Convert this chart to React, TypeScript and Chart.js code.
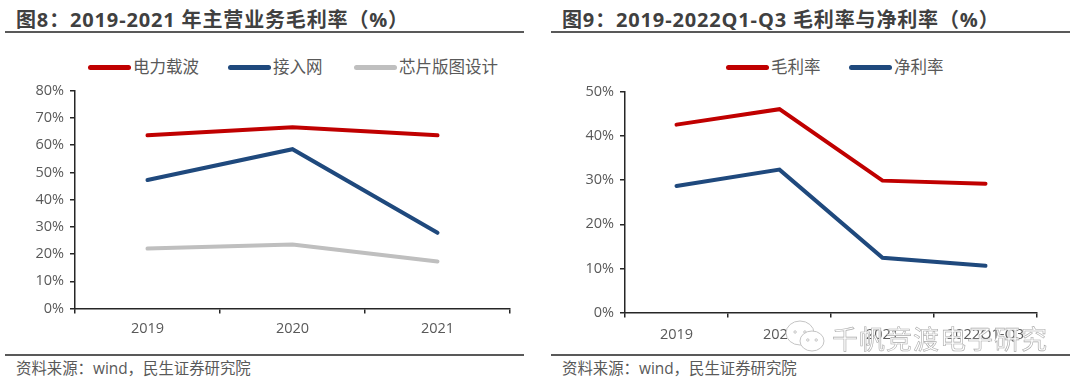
import React, { useEffect, useRef } from "react";
import { Chart, registerables } from "chart.js";

Chart.register(...registerables);

const RED = "#c00000";
const BLUE = "#1f497d";
const GREY = "#bfbfbf";
const TEXT = "#595959";
const AXIS = "#262626";
const CJK = '"Open Sans", "Noto Sans CJK SC", sans-serif';

const leftCategories = ["2019", "2020", "2021"];
const powerCarrier = [63.6, 66.6, 63.6];
const accessNetwork = [47.2, 58.5, 27.8];
const chipLayout = [22, 23.5, 17.3];

const rightCategories = ["2019", "2020", "2021", "2022Q1-Q3"];
const grossMargin = [42.6, 46.1, 29.9, 29.2];
const netMargin = [28.7, 32.4, 12.4, 10.6];

const leftSeries = [
  { label: "电力载波", data: powerCarrier, color: RED },
  { label: "接入网", data: accessNetwork, color: BLUE },
  { label: "芯片版图设计", data: chipLayout, color: GREY },
];
const rightSeries = [
  { label: "毛利率", data: grossMargin, color: RED },
  { label: "净利率", data: netMargin, color: BLUE },
];

type Series = { label: string; data: number[]; color: string };

function LineChart(props: {
  left: number; top: number; width: number; height: number;
  axisLeft: number; padTop: number; padRight: number; xHeight: number; tickPad: number;
  categories: string[]; series: Series[]; max: number;
}) {
  const ref = useRef<HTMLCanvasElement>(null);
  useEffect(() => {
    const chart = new Chart(ref.current!, {
      type: "line",
      data: {
        labels: props.categories,
        datasets: props.series.map((s) => ({
          label: s.label,
          data: s.data,
          borderColor: s.color,
          backgroundColor: s.color,
          borderWidth: 4,
          borderCapStyle: "round",
          borderJoinStyle: "miter",
          pointRadius: 0,
          tension: 0,
          fill: false,
        })),
      },
      options: {
        animation: false,
        responsive: false,
        layout: { padding: { top: props.padTop, right: props.padRight, left: 0, bottom: 0 } },
        plugins: { legend: { display: false }, tooltip: { enabled: false } },
        scales: {
          x: {
            offset: true,
            afterFit: (s: any) => { s.height = props.xHeight; },
            grid: { offset: true, drawOnChartArea: false, drawTicks: true, tickLength: 5, color: AXIS, lineWidth: 1.5 },
            border: { color: AXIS, width: 1.5 },
            ticks: { color: TEXT, padding: props.tickPad, maxRotation: 0, autoSkip: false, font: { family: CJK, size: 14.5 } },
          },
          y: {
            min: 0,
            max: props.max,
            afterFit: (s: any) => { s.width = props.axisLeft; },
            grid: { drawOnChartArea: false, drawTicks: true, tickLength: 5, color: AXIS, lineWidth: 1.5 },
            border: { color: AXIS, width: 1.5 },
            ticks: {
              color: TEXT,
              padding: 6,
              stepSize: 10,
              font: { family: CJK, size: 14.5 },
              callback: (v: any) => `${v}%`,
            },
          },
        },
      } as any,
    });
    return () => chart.destroy();
  }, []);
  return (
    <canvas
      ref={ref}
      width={props.width}
      height={props.height}
      style={{ position: "absolute", left: props.left, top: props.top, width: props.width, height: props.height }}
    />
  );
}

function Abs(props: { x: number; y: number; style?: React.CSSProperties; children: React.ReactNode }) {
  return (
    <div style={{ position: "absolute", left: props.x, top: props.y, whiteSpace: "nowrap", fontFamily: CJK, ...props.style }}>
      {props.children}
    </div>
  );
}

function Legend(props: { items: { x: number; series: Series }[]; y: number }) {
  return (
    <>
      {props.items.map(({ x, series }) => (
        <React.Fragment key={series.label}>
          <div style={{ position: "absolute", left: x, top: props.y - 2.5, width: 43, height: 5, borderRadius: 3, background: series.color }} />
          <Abs x={x + 45} y={props.y - 12} style={{ fontSize: 16.5, lineHeight: "24px", color: TEXT }}>{series.label}</Abs>
        </React.Fragment>
      ))}
    </>
  );
}

function Bubble(props: { cx: number; cy: number; rx: number; ry: number }) {
  const { cx, cy, rx, ry } = props;
  return (
    <g fill="#fff" stroke="#c4c4c4" strokeWidth={1}>
      <ellipse cx={cx} cy={cy} rx={rx} ry={ry} />
      <circle cx={cx - rx * 0.35} cy={cy - 1} r={1.2} />
      <circle cx={cx + rx * 0.35} cy={cy - 1} r={1.2} />
    </g>
  );
}

export default function App() {
  return (
    <div style={{ position: "absolute", left: 0, top: 0, width: 1080, height: 384, overflow: "hidden", background: "#fff" }}>
      <Abs x={16} y={6} style={{ fontSize: 20, lineHeight: "28px", fontWeight: 700, color: "#404040", letterSpacing: 0.85 }}>
        图8：2019-2021 年主营业务毛利率（%）
      </Abs>
      <Abs x={562} y={6} style={{ fontSize: 20, lineHeight: "28px", fontWeight: 700, color: "#404040", letterSpacing: 0.85 }}>
        图9：2019-2022Q1-Q3 毛利率与净利率（%）
      </Abs>
      <div style={{ position: "absolute", left: 5, top: 31, width: 519, height: 2, background: "#595959" }} />
      <div style={{ position: "absolute", left: 551, top: 31, width: 519, height: 2, background: "#595959" }} />

      <Legend y={67} items={[
        { x: 88, series: leftSeries[0] },
        { x: 228, series: leftSeries[1] },
        { x: 354, series: leftSeries[2] },
      ]} />
      <Legend y={67} items={[
        { x: 726, series: rightSeries[0] },
        { x: 849, series: rightSeries[1] },
      ]} />

      <LineChart left={0} top={76} width={530} height={279} axisLeft={75} padTop={13} padRight={20}
        xHeight={46.5} tickPad={7} categories={leftCategories} series={leftSeries} max={80} />
      <LineChart left={540} top={75} width={530} height={280} axisLeft={85} padTop={17} padRight={33}
        xHeight={42.5} tickPad={9} categories={rightCategories} series={rightSeries} max={50} />

      <div style={{ position: "absolute", left: 5, top: 353.5, width: 519, height: 2, background: "#595959" }} />
      <div style={{ position: "absolute", left: 551, top: 353.5, width: 519, height: 2, background: "#595959" }} />
      <Abs x={16} y={358} style={{ fontSize: 15.4, lineHeight: "22px", color: TEXT }}>资料来源：wind，民生证券研究院</Abs>
      <Abs x={562} y={358} style={{ fontSize: 15.4, lineHeight: "22px", color: TEXT }}>资料来源：wind，民生证券研究院</Abs>

      <svg width={60} height={40} style={{ position: "absolute", left: 776, top: 318 }}>
        <Bubble cx={24} cy={15} rx={14} ry={12} />
        <Bubble cx={36} cy={23} rx={12} ry={10} />
      </svg>
      <Abs x={832} y={318} style={{
        fontSize: 26, lineHeight: "40px", color: "#fff", letterSpacing: 1,
        fontFamily: '"Noto Sans CJK SC", sans-serif', WebkitTextStroke: "0.6px #aaaaaa",
      }}>千帆竞渡电子研究</Abs>
    </div>
  );
}
